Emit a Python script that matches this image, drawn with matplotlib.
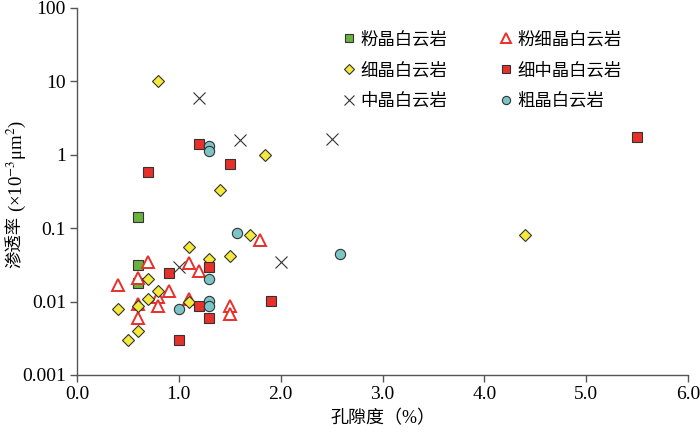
import matplotlib
matplotlib.use("Agg")
import matplotlib.pyplot as plt
from matplotlib.ticker import FixedLocator, FuncFormatter, NullLocator

plt.rcParams['font.family'] = ['Liberation Serif', 'DejaVu Serif', 'Noto Sans CJK SC']
plt.rcParams['mathtext.fontset'] = 'stix'

# 粉晶白云岩
fen_x = [0.6, 0.6, 0.6]
fen_y = [0.14, 0.032, 0.018]
# 粉细晶白云岩
fenxi_x = [0.4, 0.6, 0.6, 0.6, 0.7, 0.8, 0.8, 0.9, 1.1, 1.1, 1.2, 1.5, 1.5, 1.8]
fenxi_y = [0.017, 0.021, 0.0093, 0.0059, 0.035, 0.0115, 0.0087, 0.014, 0.034, 0.011, 0.026, 0.0087, 0.0067, 0.069]
# 细晶白云岩
xi_x = [0.8, 1.85, 1.4, 1.7, 4.4, 1.1, 1.3, 1.5, 0.7, 0.8, 0.7, 1.1, 0.6, 0.4, 0.6, 0.5]
xi_y = [10, 1.0, 0.33, 0.08, 0.081, 0.056, 0.038, 0.042, 0.02, 0.014, 0.011, 0.0098, 0.0087, 0.0079, 0.004, 0.003]
# 细中晶白云岩
xizhong_x = [1.2, 0.7, 1.5, 5.5, 0.9, 1.3, 1.2, 1.3, 1.0, 1.9]
xizhong_y = [1.4, 0.59, 0.76, 1.75, 0.0245, 0.0295, 0.0087, 0.0059, 0.003, 0.0102]
# 中晶白云岩
zhong_x = [1.2, 1.6, 2.5, 2.0, 1.0]
zhong_y = [5.9, 1.6, 1.65, 0.035, 0.0295]
# 粗晶白云岩
cu_x = [1.3, 1.3, 1.57, 2.58, 1.3, 1.3, 1.3, 1.0]
cu_y = [1.32, 1.14, 0.087, 0.045, 0.02, 0.0102, 0.0087, 0.0079]

x_ticks = [0, 1, 2, 3, 4, 5, 6]
y_ticks = [0.001, 0.01, 0.1, 1, 10, 100]
y_labels = ['0.001', '0.01', '0.1', '1', '10', '100']

fig = plt.figure(figsize=(7, 4.43), dpi=100)
ax = fig.add_axes([0.110, 0.1535, 0.873, 0.8285])

edge = '#333333'
h_fen, = ax.plot(fen_x, fen_y, 's', ms=7.2, mfc='#6ab23e', mec=edge, mew=0.8, label='粉晶白云岩')
h_fenxi, = ax.plot(fenxi_x, fenxi_y, '^', ms=8.3, mfc='white', mec='#e8302a', mew=1.4, label='粉细晶白云岩')
h_xi, = ax.plot(xi_x, xi_y, 'D', ms=6.5, mfc='#f5ea3c', mec=edge, mew=0.8, label='细晶白云岩')
h_xizhong, = ax.plot(xizhong_x, xizhong_y, 's', ms=7.2, mfc='#e8302a', mec=edge, mew=0.8, label='细中晶白云岩')
h_zhong, = ax.plot(zhong_x, zhong_y, 'x', ms=8.8, mec='#333333', mew=0.8, label='中晶白云岩')
h_cu, = ax.plot(cu_x, cu_y, 'o', ms=7.4, mfc='#7cc4c6', mec=edge, mew=0.8, label='粗晶白云岩')

ax.set_yscale('log')
ax.set_xlim(0, 6)
ax.set_ylim(0.001, 100)
ax.xaxis.set_major_locator(FixedLocator(x_ticks))
ax.xaxis.set_major_formatter(FuncFormatter(lambda v, p: '%.1f' % v))
ax.yaxis.set_major_locator(FixedLocator(y_ticks))
ax.yaxis.set_major_formatter(FuncFormatter(lambda v, p: y_labels[p] if p is not None and p < len(y_labels) else ''))
ax.yaxis.set_minor_locator(NullLocator())

for s in ['top', 'right']:
    ax.spines[s].set_visible(False)
for s in ['left', 'bottom']:
    ax.spines[s].set_color('#555555')
    ax.spines[s].set_linewidth(1.0)
ax.tick_params(direction='out', length=5, width=1.0, color='#555555', labelsize=14, pad=3)

ax.set_xlabel('孔隙度（%）', fontsize=13, labelpad=5)

# y label in two parts: CJK text + unit with mathtext superscripts
lx = 16 / 700
t1 = fig.text(lx, 1 - 268 / 443, '渗透率', rotation=90, ha='center', va='bottom', fontsize=12.5)
fig.canvas.draw()
bb = t1.get_window_extent().transformed(fig.transFigure.inverted())
fig.text(lx, bb.y1 + 4 / 443, '(×10$^{-3}$μm$^{2}$)', rotation=90, ha='center', va='bottom', fontsize=13.5)

handles = [h_fen, h_xi, h_zhong, h_fenxi, h_xizhong, h_cu]
ax.legend(handles=handles, ncol=2, frameon=False, fontsize=12.5, markerscale=0.8,
          handlelength=0.6, handletextpad=0.35, columnspacing=3.1, labelspacing=0.83,
          loc='upper left', bbox_to_anchor=(344 / 700, 1 - 32 / 443), bbox_transform=fig.transFigure,
          borderaxespad=0, borderpad=0)

fig.savefig('out.png', dpi=100)
